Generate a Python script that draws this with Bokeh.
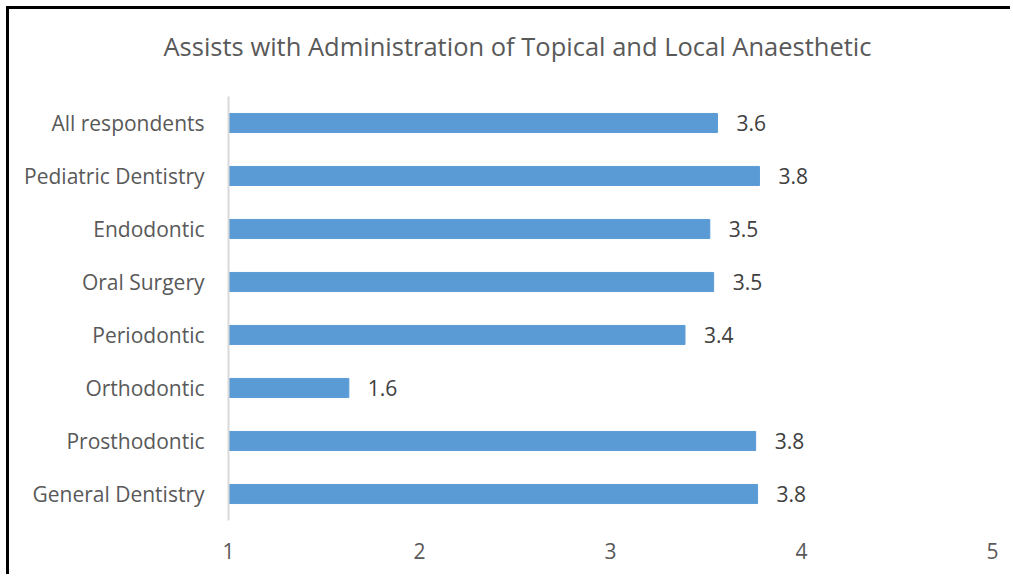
from bokeh.plotting import figure
from bokeh.models import ColumnDataSource, LabelSet, Range1d, FactorRange, FixedTicker, Title
from bokeh.core.properties import value
from bokeh.embed import file_html
from bokeh.resources import INLINE

categories = ["All respondents", "Pediatric Dentistry", "Endodontic", "Oral Surgery",
              "Periodontic", "Orthodontic", "Prosthodontic", "General Dentistry"]
values = [3.56, 3.78, 3.52, 3.54, 3.39, 1.63, 3.76, 3.77]
x_ticks = [1, 2, 3, 4, 5]
title_text = "Assists with Administration of Topical and Local Anaesthetic"

FONT = "Open Sans"
source = ColumnDataSource(dict(cat=categories, val=values,
                               lab=[f"{v:.1f}" for v in values]))

p = figure(width=1004, height=568, output_backend="svg", toolbar_location=None,
           x_range=Range1d(1, 5), y_range=FactorRange(*reversed(categories)),
           min_border_left=219, min_border_right=21, min_border_top=87,
           min_border_bottom=57)
p.styles = {"border-left": "3px solid black", "border-top": "3px solid black",
            "margin-left": "6px", "margin-top": "6px"}

p.hbar(y="cat", left=1, right="val", height=0.36, source=source,
       fill_color="#5B9BD5", line_color="#5B9BD5")

labels = LabelSet(x="val", y="cat", text="lab", source=source, x_offset=19,
                  text_baseline="middle", text_align="left",
                  text_font=value(FONT), text_font_size="21px", text_color="#404040")
p.add_layout(labels)

# spacer between frame and title (empty-looking title line)
spacer = Title(text=" ", standoff=0, text_font=FONT, text_font_size="20px",
               text_color="white")
p.add_layout(spacer, "above")
t = Title(text=title_text, align="left", offset=-65, standoff=10,
          text_font=FONT, text_font_size="25.5px", text_font_style="normal",
          text_color="#595959")
p.add_layout(t, "above")

p.outline_line_color = None
p.grid.grid_line_color = None
p.background_fill_color = "white"
p.border_fill_color = "white"

p.xaxis.ticker = FixedTicker(ticks=x_ticks)
p.xaxis.axis_line_color = None
p.xaxis.major_tick_line_color = None
p.xaxis.minor_tick_line_color = None
p.xaxis.major_label_standoff = 16
p.xaxis.major_label_text_font = FONT
p.xaxis.major_label_text_font_size = "21px"
p.xaxis.major_label_text_color = "#595959"

p.yaxis.axis_line_color = "#D9D9D9"
p.yaxis.axis_line_width = 2
p.yaxis.major_tick_line_color = None
p.yaxis.minor_tick_line_color = None
p.yaxis.major_label_standoff = 18
p.yaxis.major_label_text_font = FONT
p.yaxis.major_label_text_font_size = "21px"
p.yaxis.major_label_text_color = "#595959"

open("out.html", "w").write(file_html(p, INLINE))
